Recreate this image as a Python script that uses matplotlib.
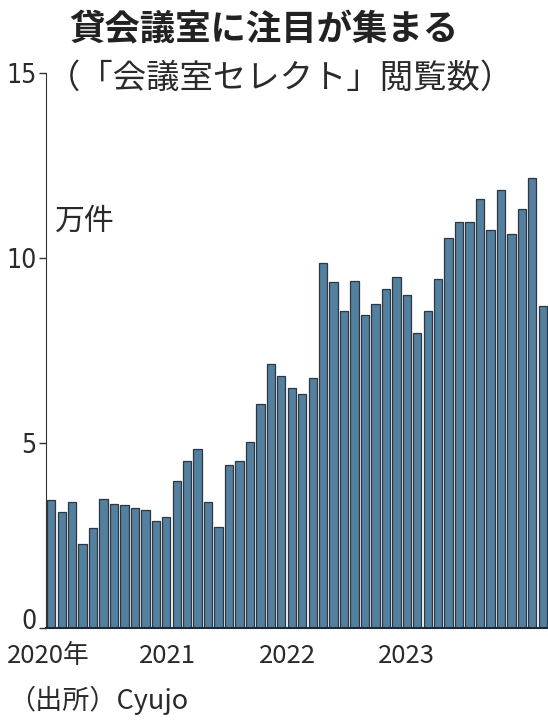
import matplotlib
matplotlib.use("Agg")
import matplotlib.pyplot as plt
import numpy as np
from matplotlib.transforms import ScaledTranslation

values = [3.46, 3.14, 3.41, 2.27, 2.69, 3.48, 3.35, 3.32, 3.23, 3.19, 2.90, 3.01,
          3.98, 4.52, 4.84, 3.41, 2.72, 4.41, 4.52, 5.04, 6.05, 7.14, 6.82, 6.50,
          6.32, 6.75, 9.86, 9.34, 8.57, 9.38, 8.46, 8.75, 9.15, 9.48, 9.00, 7.97,
          8.57, 9.42, 10.53, 10.96, 10.97, 11.59, 10.76, 11.84, 10.65, 11.32, 12.17, 8.70]
year_labels = ["2020年", "2021", "2022", "2023"]
year_pos = [-0.3, 11.1, 22.6, 34.0]
y_ticks = [0, 5, 10, 15]

title = "貸会議室に注目が集まる"
subtitle = "（「会議室セレクト」閲覧数）"
unit = "万件"
source = "（出所）Cyujo"

JP = ["Noto Sans CJK JP", "DejaVu Sans"]
txt = "#2a2a2a"

fig = plt.figure(figsize=(5.48, 7.22), dpi=100)
ax = fig.add_axes([46/548, 94/722, 502/548, 555/722])

x = np.arange(len(values))
ax.bar(x, values, width=0.8, color="#53809f", edgecolor="#2e3640", linewidth=0.9)
ax.set_xlim(-0.5, len(values) - 0.5)
ax.set_ylim(0, 15)

for s in ["top", "right"]:
    ax.spines[s].set_visible(False)
ax.spines["left"].set_color("#333333")
ax.spines["bottom"].set_color("#1f2a36")
ax.spines["bottom"].set_linewidth(1.5)

ax.set_yticks(y_ticks)
ax.set_yticklabels([str(t) for t in y_ticks], family="DejaVu Sans", stretch="condensed",
                   fontsize=19, color=txt)
ax.tick_params(axis="y", length=5, width=1, color="#333333", pad=2)
zero_lbl = ax.get_yticklabels()[0]
zero_lbl.set_transform(zero_lbl.get_transform() + ScaledTranslation(0, 9/100, fig.dpi_scale_trans))
ax.set_xticks(year_pos)
ax.set_xticklabels(year_labels, family=JP, fontsize=18.5, color=txt)
ax.tick_params(axis="x", length=0, pad=11)

ax.text(0.018, 11.0, unit, transform=ax.get_yaxis_transform(), family=JP,
        fontsize=21.5, color=txt, ha="left", va="center")

fig.text(264/548, 1 - 30/722, title, family=JP, fontsize=25.5, fontweight="bold",
         color="#222222", ha="center", va="center")
fig.text(280/548, 1 - 78/722, subtitle, family=JP, fontsize=24,
         color=txt, ha="center", va="center")
fig.text(8/548, 1 - 700/722, source, family=JP, fontsize=19.5,
         color=txt, ha="left", va="center")

fig.savefig("out.png", dpi=100)
